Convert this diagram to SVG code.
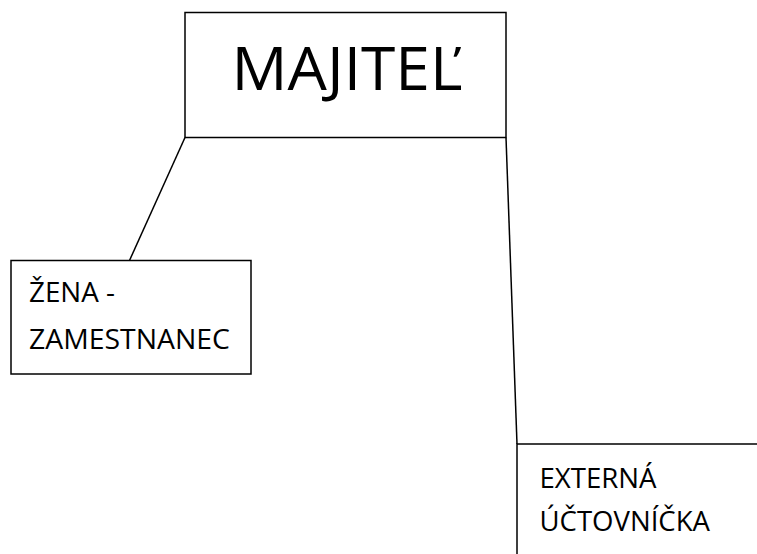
<svg xmlns="http://www.w3.org/2000/svg" width="757" height="554" viewBox="0 0 757 554">
  <style>
    .box { fill: #ffffff; stroke: #000000; stroke-width: 1.5; }
    .link { fill: none; stroke: #000000; stroke-width: 1.5; }
    .lbl { font-family: "Open Sans", "Noto Sans", "Liberation Sans", sans-serif; fill: #000000; }
    .big { font-size: 60px; }
    .small { font-size: 27px; }
  </style>
  <rect width="757" height="554" fill="#ffffff"/>
  <g id="connectors">
    <line class="link" x1="185" y1="137.5" x2="129.5" y2="260.5"/>
    <line class="link" x1="506" y1="137.5" x2="517" y2="444"/>
  </g>
  <g id="majitel">
    <rect class="box" x="185" y="12.5" width="321" height="125"/>
    <text class="lbl big" x="231.5" y="90" textLength="231" lengthAdjust="spacingAndGlyphs">MAJITEĽ</text>
  </g>
  <g id="zena">
    <rect class="box" x="11" y="260.5" width="240" height="113.5"/>
    <text class="lbl small" x="29" y="301.5" textLength="86" lengthAdjust="spacingAndGlyphs">ŽENA -</text>
    <text class="lbl small" x="29" y="348.5" textLength="201" lengthAdjust="spacingAndGlyphs">ZAMESTNANEC</text>
  </g>
  <g id="uctovnicka">
    <polyline class="box" points="757,444 517,444 517,554"/>
    <text class="lbl small" x="539.5" y="487.5" textLength="117" lengthAdjust="spacingAndGlyphs">EXTERNÁ</text>
    <text class="lbl small" x="539.5" y="530.5" textLength="170.5" lengthAdjust="spacingAndGlyphs">ÚČTOVNÍČKA</text>
  </g>
</svg>
